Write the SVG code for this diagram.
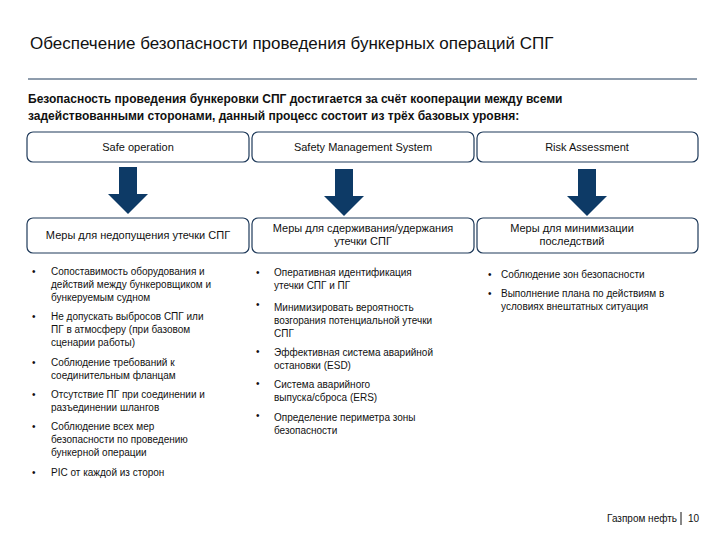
<svg xmlns="http://www.w3.org/2000/svg" width="720" height="540" viewBox="0 0 720 540">
<style>
text{font-family:"Liberation Sans",Arial,sans-serif;fill:#111}
.t{font-size:11px}
.b{font-size:10px}
.box{fill:#fff;stroke:#1f3a5a;stroke-width:1.2}
.arr{fill:#0d3a66}
</style>
<rect width="720" height="540" fill="#fff"/>
<text x="30" y="49" font-size="17">Обеспечение безопасности проведения бункерных операций СПГ</text>
<line x1="28" y1="79" x2="697" y2="79" stroke="#1f3a5a" stroke-width="1"/>
<text x="28" y="103" font-size="12" font-weight="bold">Безопасность проведения бункеровки СПГ достигается за счёт кооперации между всеми</text>
<text x="28" y="120" font-size="12" font-weight="bold">задействованными сторонами, данный процесс состоит из трёх базовых уровня:</text>
<g id="top1"><rect class="box" x="27" y="132" width="222" height="30" rx="6"/><text class="t" x="138" y="151" text-anchor="middle">Safe operation</text></g>
<g id="top2"><rect class="box" x="252" y="132" width="222" height="30" rx="6"/><text class="t" x="363" y="151" text-anchor="middle">Safety Management System</text></g>
<g id="top3"><rect class="box" x="477" y="132" width="221" height="30" rx="6"/><text class="t" x="587" y="151" text-anchor="middle">Risk Assessment</text></g>
<g id="connectors">
<path class="arr" d="M119 167H137V194H148L128 214L108 194H119Z"/>
<path class="arr" d="M335 169H353V196H364L344 216L324 196H335Z"/>
<path class="arr" d="M578 169H596V196H607L587 216L567 196H578Z"/>
</g>
<g id="bot1"><rect class="box" x="27" y="218" width="222" height="35" rx="6"/><text class="t" x="138" y="239" text-anchor="middle">Меры для недопущения утечки СПГ</text></g>
<g id="bot2"><rect class="box" x="252" y="218" width="222" height="35" rx="6"/><text class="t" x="363" y="232" text-anchor="middle">Меры для сдерживания/удержания</text><text class="t" x="363" y="245" text-anchor="middle">утечки СПГ</text></g>
<g id="bot3"><rect class="box" x="477" y="218" width="221" height="35" rx="6"/><text class="t" x="572" y="232" text-anchor="middle">Меры для минимизации</text><text class="t" x="572" y="245" text-anchor="middle">последствий</text></g>
<g id="list1" class="b">
<text class="b" x="32" y="275">•</text><text class="b" x="51" y="275">Сопоставимость оборудования и</text><text class="b" x="51" y="288">действий между бункеровщиком и</text><text class="b" x="51" y="301">бункеруемым судном</text>
<text class="b" x="32" y="320">•</text><text class="b" x="51" y="320">Не допускать выбросов СПГ или</text><text class="b" x="51" y="333">ПГ в атмосферу (при базовом</text><text class="b" x="51" y="346">сценарии работы)</text>
<text class="b" x="32" y="366">•</text><text class="b" x="51" y="366">Соблюдение требований к</text><text class="b" x="51" y="379">соединительным фланцам</text>
<text class="b" x="32" y="398">•</text><text class="b" x="51" y="398">Отсутствие ПГ при соединении и</text><text class="b" x="51" y="411">разъединении шлангов</text>
<text class="b" x="32" y="430">•</text><text class="b" x="51" y="430">Соблюдение всех мер</text><text class="b" x="51" y="443">безопасности по проведению</text><text class="b" x="51" y="456">бункерной операции</text>
<text class="b" x="32" y="476">•</text><text class="b" x="51" y="476">PIC от каждой из сторон</text>
</g>
<g id="list2">
<text class="b" x="256" y="276">•</text><text class="b" x="274" y="276">Оперативная идентификация</text><text class="b" x="274" y="289">утечки СПГ и ПГ</text>
<text class="b" x="256" y="308">•</text><text class="b" x="274" y="311">Минимизировать вероятность</text><text class="b" x="274" y="324">возгорания потенциальной утечки</text><text class="b" x="274" y="337">СПГ</text>
<text class="b" x="256" y="355">•</text><text class="b" x="274" y="356">Эффективная система аварийной</text><text class="b" x="274" y="369">остановки (ESD)</text>
<text class="b" x="256" y="387">•</text><text class="b" x="274" y="388">Система аварийного</text><text class="b" x="274" y="401">выпуска/сброса (ERS)</text>
<text class="b" x="256" y="419">•</text><text class="b" x="274" y="421">Определение периметра зоны</text><text class="b" x="274" y="434">безопасности</text>
</g>
<g id="list3">
<text class="b" x="488" y="278">•</text><text class="b" x="501" y="278">Соблюдение зон безопасности</text>
<text class="b" x="488" y="297">•</text><text class="b" x="501" y="297">Выполнение плана по действиям в</text><text class="b" x="501" y="310">условиях внештатных ситуация</text>
</g>
<text x="677" y="522" font-size="10" text-anchor="end">Газпром нефть</text>
<line x1="681" y1="512" x2="681" y2="525" stroke="#111"/>
<text x="688" y="522" font-size="10">10</text>
</svg>
